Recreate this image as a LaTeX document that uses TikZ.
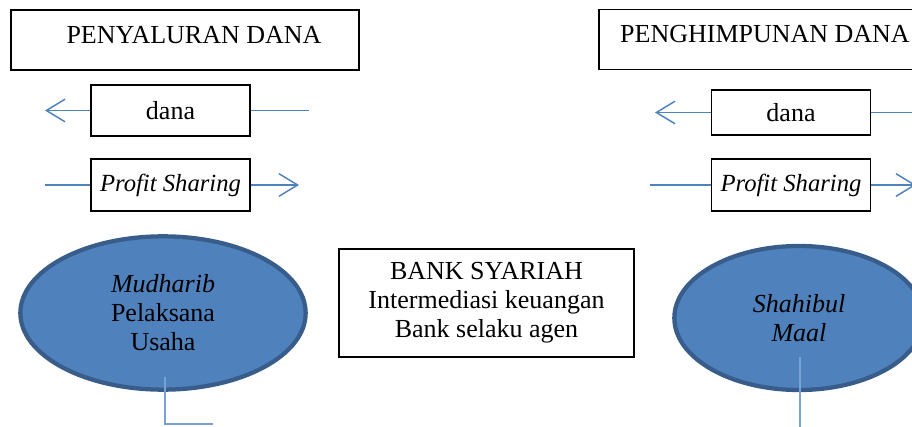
\documentclass[tikz,border=0pt]{standalone}
\usepackage{fontspec}
\setmainfont{Liberation Serif}
\usetikzlibrary{arrows.meta,shapes.geometric}
\definecolor{biru}{RGB}{79,129,189}
\definecolor{birutua}{RGB}{56,93,138}
\definecolor{birumuda}{RGB}{120,160,212}
\begin{document}
\begin{tikzpicture}[x=0.75pt,y=0.75pt,yscale=-1,xscale=1,
	font=\fontsize{19.5}{21.75}\selectfont,
	kotak/.style={draw, line width=1.1pt, inner sep=0pt, minimum width=119pt},
	judul/.style={draw, line width=1.1pt, inner sep=0pt, minimum width=261pt, minimum height=45pt, text height=12.75pt, text depth=7.5pt},
	pihak/.style={ellipse, draw=birutua, fill=biru, line width=3.2pt, inner sep=0pt, align=center},
	aliran/.style={draw=biru, line width=1.1pt},
	panah/.style={aliran, -{Straight Barb[length=14pt,width=17pt]}},
	garisbawah/.style={draw=birumuda, line width=0.9pt}]
	\useasboundingbox (0,0) rectangle (912,427);
	\clip (0,0) rectangle (912,427);
	% kotak judul
	\node[judul] (penyaluran) at (185,40) {\hspace*{13.5pt}PENYALURAN DANA};
	\node[judul] (penghimpunan) at (773,39.5) {PENGHIMPUNAN DANA\hspace*{12pt}};
	% dana dan profit sharing
	\node[kotak, minimum height=38.25pt] (danakiri) at (170.5,110.5) {dana};
	\node[kotak, minimum height=39pt, font=\fontsize{18.5}{21}\itshape] (profitkiri) at (170.5,185) {Profit Sharing};
	\node[kotak, minimum height=33.75pt] (danakanan) at (791,112.5) {dana};
	\node[kotak, minimum height=39pt, font=\fontsize{18.5}{21}\itshape] (profitkanan) at (791,185) {Profit Sharing};
	% bank
	\node[kotak, align=center, minimum width=221.25pt, minimum height=81pt] (bank) at (486.5,303) {BANK SYARIAH\\Intermediasi keuangan\\Bank selaku agen};
	% para pihak
	\node[pihak, minimum width=214pt, minimum height=115pt] (mudharib) at (163,313) {\textit{Mudharib}\\Pelaksana\\Usaha};
	\node[pihak, minimum width=187pt, minimum height=108pt] (shahibul) at (799,318) {\textit{Shahibul}\\\textit{Maal}};
	% ujung bebas
	\coordinate (ujungdanakiri) at (45,110.5);
	\coordinate (pangkaldanakiri) at (309,110.5);
	\coordinate (pangkalprofitkiri) at (45,185);
	\coordinate (ujungprofitkiri) at (299,185);
	\coordinate (ujungdanakanan) at (655,112.5);
	\coordinate (pangkaldanakanan) at (930,112.5);
	\coordinate (pangkalprofitkanan) at (650,185);
	\coordinate (ujungprofitkanan) at (916,185);
	\coordinate (ekormudharib) at (213,424);
	\coordinate (kakishahibul) at (800,430);
	% aliran
	\draw[panah] (danakiri) -- (ujungdanakiri);
	\draw[aliran] (danakiri) -- (pangkaldanakiri);
	\draw[aliran] (pangkalprofitkiri) -- (profitkiri);
	\draw[panah] (profitkiri) -- (ujungprofitkiri);
	\draw[panah] (danakanan) -- (ujungdanakanan);
	\draw[aliran] (danakanan) -- (pangkaldanakanan);
	\draw[aliran] (pangkalprofitkanan) -- (profitkanan);
	\draw[panah] (profitkanan) -- (ujungprofitkanan);
	\draw[garisbawah] ([shift={(2,64)}]mudharib.center) |- (ekormudharib);
	\draw[garisbawah] ([shift={(1,39)}]shahibul.center) -- (kakishahibul);
\end{tikzpicture}
\end{document}
